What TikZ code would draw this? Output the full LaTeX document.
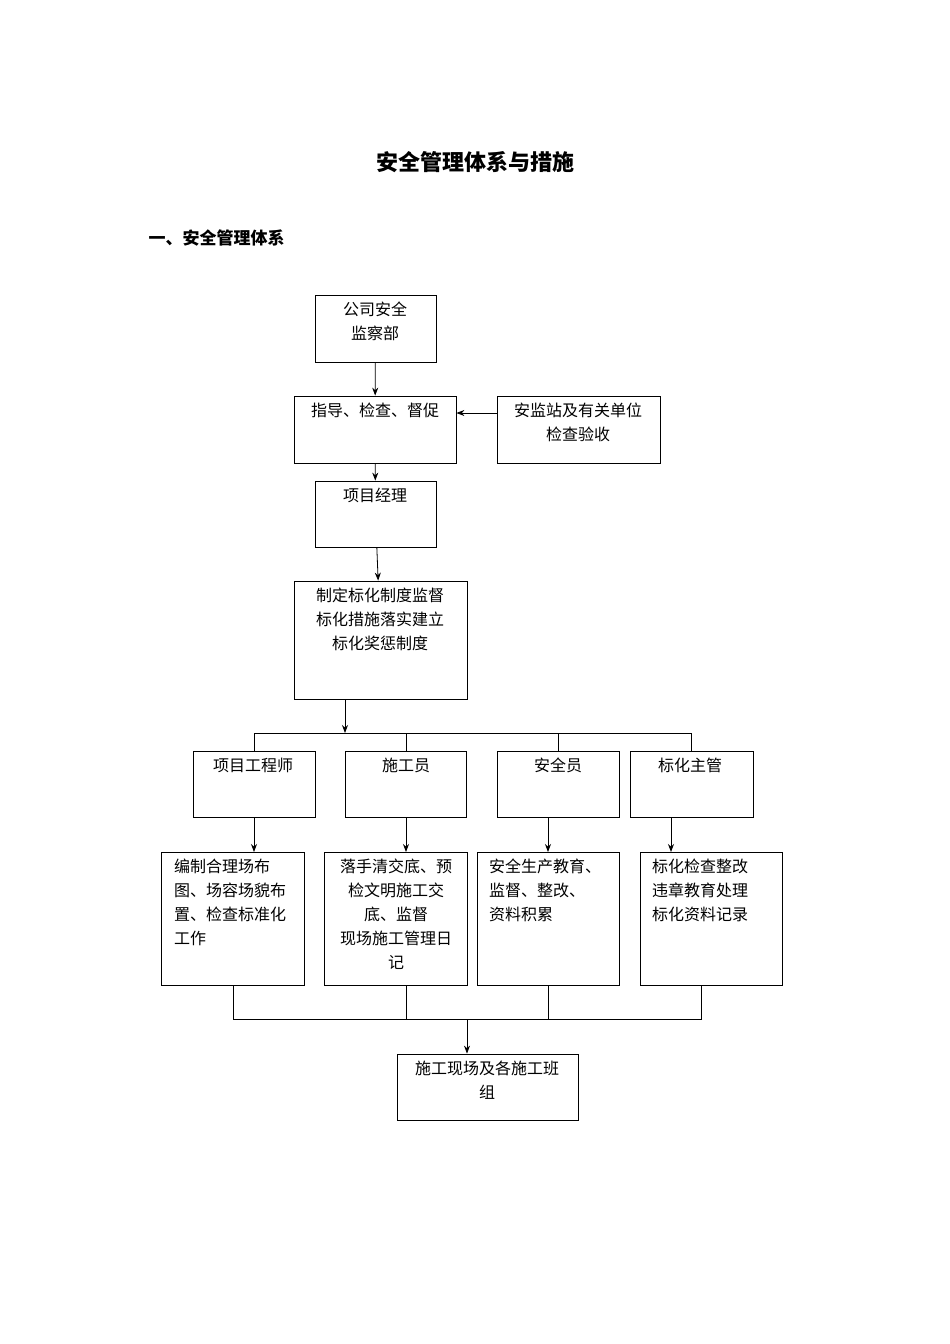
\documentclass[tikz,border=0pt]{standalone}
\usepackage{fontspec}
\setmainfont{Noto Sans CJK SC}
\usetikzlibrary{arrows.meta}
\begin{document}
\begin{tikzpicture}[x=1pt,y=-1pt,
  bx/.style={draw,line width=0.8pt,inner sep=0pt},
  tx/.style={anchor=north,font=\fontsize{16}{24}\selectfont,align=center,inner sep=0pt},
  tl/.style={anchor=north west,font=\fontsize{16}{24}\selectfont,align=left,inner sep=0pt},
  ar/.style={-{Stealth[length=8pt,width=6pt]},line width=0.8pt},
  ln/.style={line width=0.8pt}]
\useasboundingbox (0,0) rectangle (950,1344);
\node[font=\bfseries\fontsize{22}{26}\selectfont] (title) at (475,162) {安全管理体系与措施};
\node[font=\bfseries\fontsize{17}{20}\selectfont,anchor=west] (h1) at (145,238) {一、安全管理体系};
\newcommand{\bxn}[5]{\node[bx,minimum width=#4-#2,minimum height=#5-#3] (#1) at ({(#2+#4)/2},{(#3+#5)/2}) {};}
\bxn{A}{315}{295}{436}{362}
\bxn{B}{294}{396}{456}{463}
\bxn{C}{497}{396}{660}{463}
\bxn{D}{315}{481}{436}{547}
\bxn{E}{294}{581}{467}{699}
\bxn{F1}{193}{751}{315}{817}
\bxn{F2}{345}{751}{466}{817}
\bxn{F3}{497}{751}{619}{817}
\bxn{F4}{630}{751}{753}{817}
\bxn{G1}{161}{852}{304}{985}
\bxn{G2}{324}{852}{467}{985}
\bxn{G3}{477}{852}{619}{985}
\bxn{G4}{640}{852}{782}{985}
\bxn{H}{397}{1054}{578}{1120}
\node[tx] (tA) at (375,302) {公司安全\\监察部};
\node[tx] (tB) at (375,403) {指导、检查、督促};
\node[tx] (tC) at (578,403) {安监站及有关单位\\检查验收};
\node[tx] (tD) at (375,488) {项目经理};
\node[tx] (tE) at (380,588) {制定标化制度监督\\标化措施落实建立\\标化奖惩制度};
\node[tx] (tF1) at (253,758) {项目工程师};
\node[tx] (tF2) at (406,758) {施工员};
\node[tx] (tF3) at (558,758) {安全员};
\node[tx] (tF4) at (690,758) {标化主管};
\node[tl] (tG1) at (174,859) {编制合理场布\\图、场容场貌布\\置、检查标准化\\工作};
\node[tx] (tG2) at (396,859) {落手清交底、预\\检文明施工交\\底、监督\\现场施工管理日\\记};
\node[tl] (tG3) at (489,859) {安全生产教育、\\监督、整改、\\资料积累};
\node[tl] (tG4) at (652,859) {标化检查整改\\违章教育处理\\标化资料记录};
\node[tx] (tH) at (487,1061) {施工现场及各施工班\\组};
\draw[ar] (A) -- (B);
\draw[ar] (B) -- (D);
\draw[ar] (C.west |- 0,413) -- (B.east |- 0,413);
\draw[ar] (D) -- (E);
\coordinate (bus) at (345,733);
\draw[ar] (E.south -| bus) -- (bus);
\draw[ln] (254,733) -- (691,733);
\draw[ln] (254,733) -- (254,751);
\draw[ln] (406,733) -- (406,751);
\draw[ln] (558,733) -- (558,751);
\draw[ln] (691,733) -- (691,751);
\draw[ar] (254,817) -- (254,852);
\draw[ar] (406,817) -- (406,852);
\draw[ar] (548,817) -- (548,852);
\draw[ar] (671,817) -- (671,852);
\draw[ln] (233,985) -- (233,1019) -- (701,1019) -- (701,985);
\draw[ln] (406,985) -- (406,1019);
\draw[ln] (548,985) -- (548,1019);
\coordinate (bot) at (467,1019);
\draw[ar] (bot) -- (bot |- H.north);
\end{tikzpicture}
\end{document}
